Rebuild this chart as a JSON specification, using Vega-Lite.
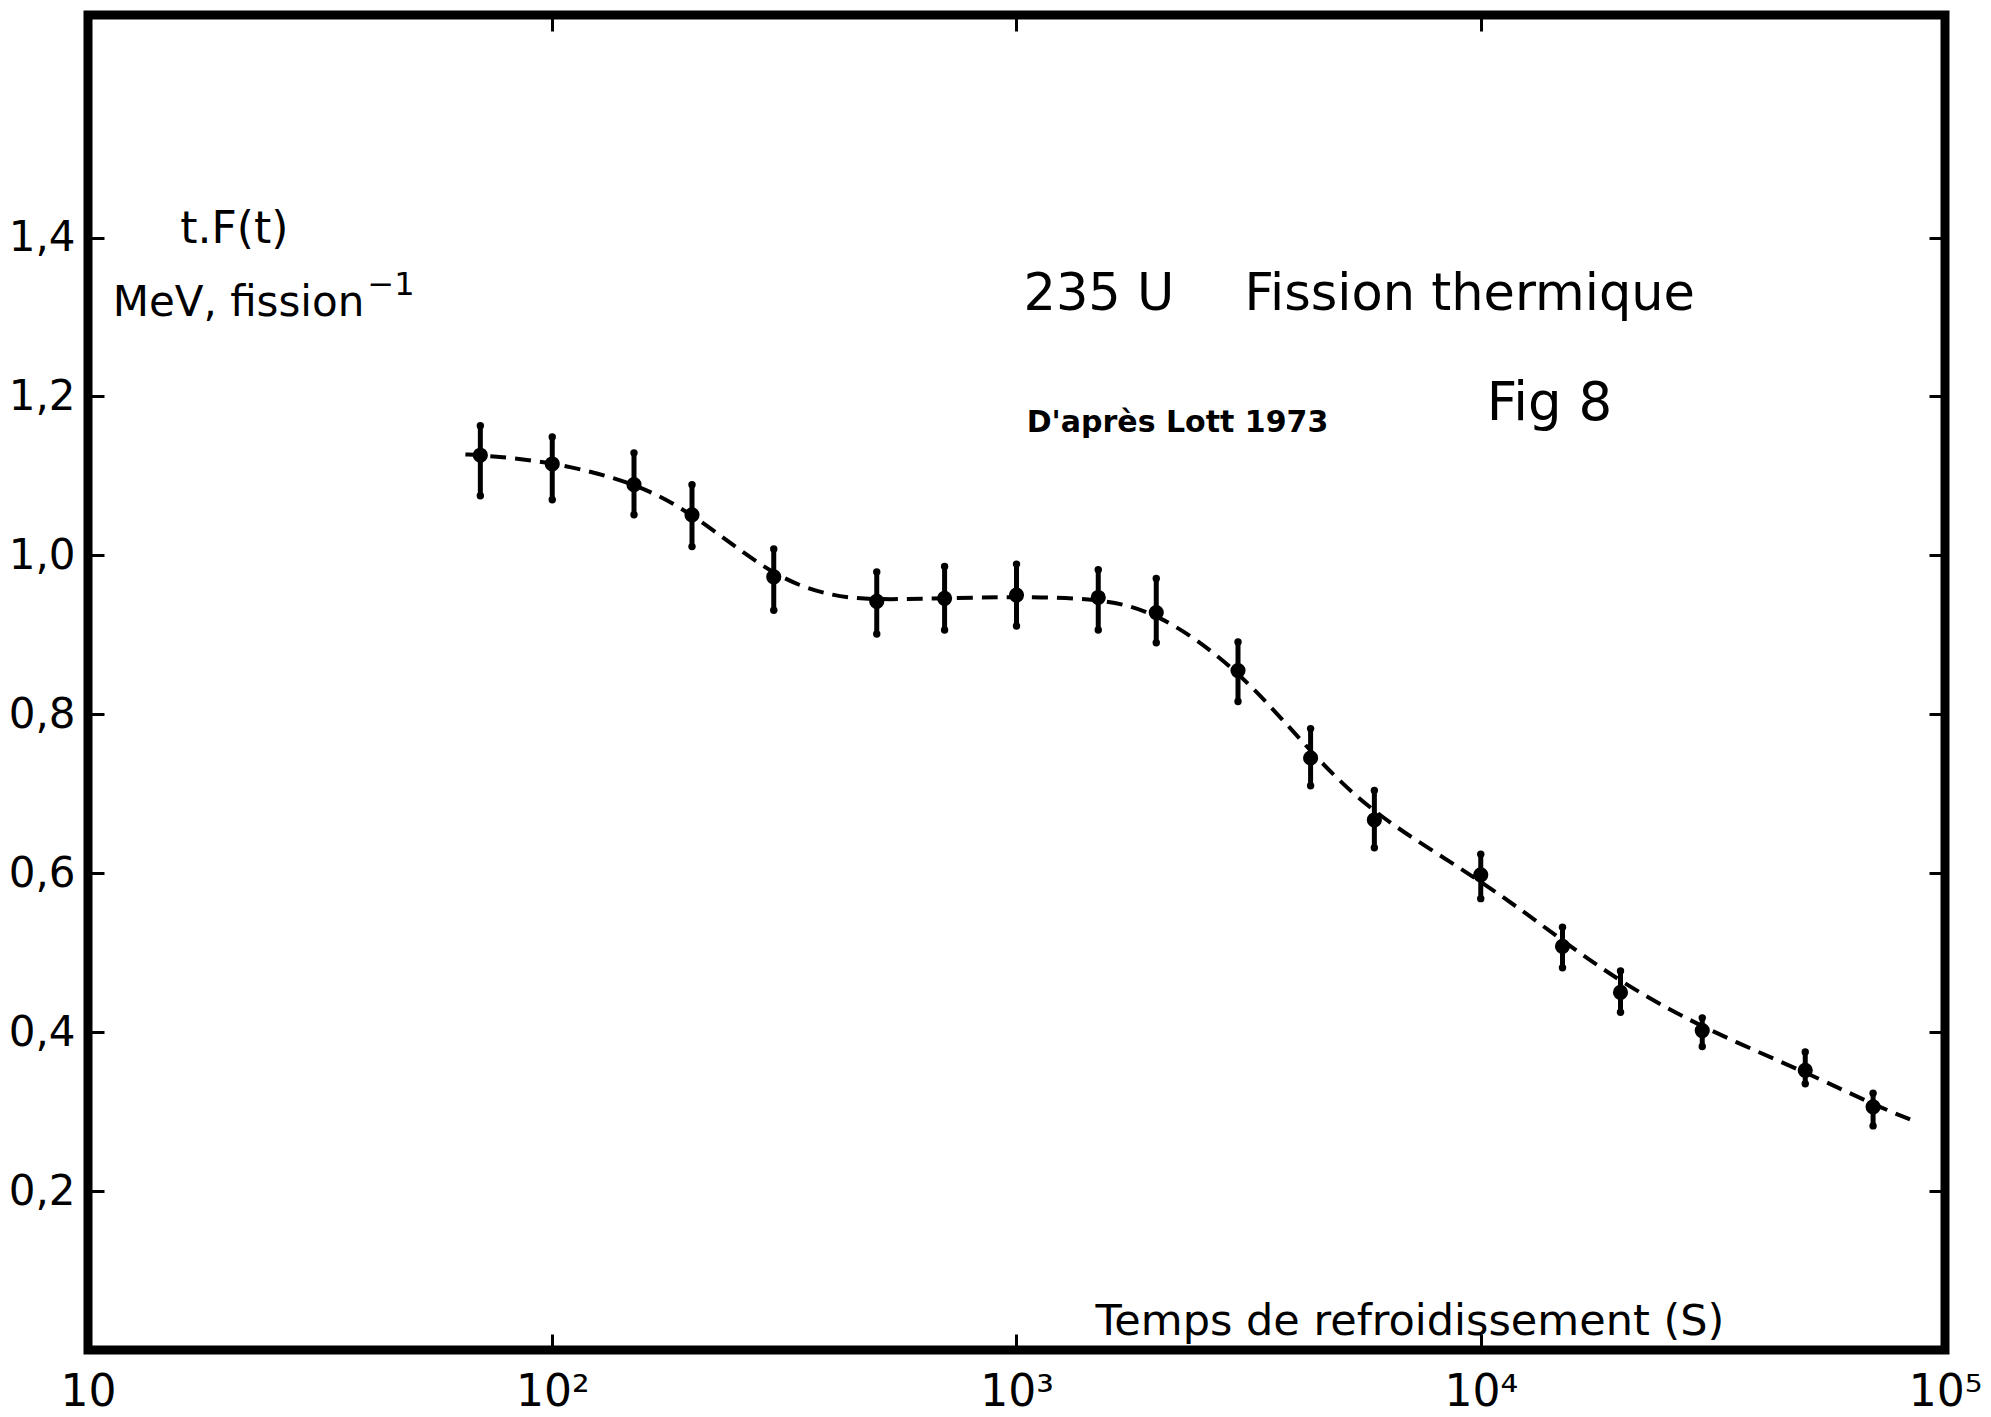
{
  "$schema": "https://vega.github.io/schema/vega-lite/v6.json",
  "width": 1857,
  "height": 1335,
  "autosize": {"type": "none"},
  "padding": {"left": 88, "top": 15, "right": 46, "bottom": 67},
  "background": "white",
  "config": {"view": {"stroke": "black", "strokeWidth": 9}, "font": "DejaVu Sans"},
  "datasets": {
    "points": [
      {"t": 70, "v": 1.126, "lo": 1.075, "hi": 1.163},
      {"t": 100, "v": 1.115, "lo": 1.070, "hi": 1.149},
      {"t": 150, "v": 1.089, "lo": 1.051, "hi": 1.129},
      {"t": 200, "v": 1.051, "lo": 1.011, "hi": 1.089},
      {"t": 300, "v": 0.973, "lo": 0.931, "hi": 1.008},
      {"t": 500, "v": 0.942, "lo": 0.901, "hi": 0.979},
      {"t": 700, "v": 0.946, "lo": 0.906, "hi": 0.986},
      {"t": 1000, "v": 0.950, "lo": 0.911, "hi": 0.989},
      {"t": 1500, "v": 0.947, "lo": 0.906, "hi": 0.982},
      {"t": 2000, "v": 0.928, "lo": 0.890, "hi": 0.971},
      {"t": 3000, "v": 0.855, "lo": 0.816, "hi": 0.891},
      {"t": 4300, "v": 0.745, "lo": 0.710, "hi": 0.782},
      {"t": 5900, "v": 0.667, "lo": 0.632, "hi": 0.704},
      {"t": 10000, "v": 0.598, "lo": 0.568, "hi": 0.624},
      {"t": 15000, "v": 0.508, "lo": 0.481, "hi": 0.532},
      {"t": 20000, "v": 0.450, "lo": 0.425, "hi": 0.477},
      {"t": 30000, "v": 0.402, "lo": 0.382, "hi": 0.418},
      {"t": 50000, "v": 0.352, "lo": 0.335, "hi": 0.375},
      {"t": 70000, "v": 0.306, "lo": 0.282, "hi": 0.323}
    ],
    "curve": [
      {"t": 65, "v": 1.127},
      {"t": 70, "v": 1.126},
      {"t": 100, "v": 1.118},
      {"t": 150, "v": 1.092},
      {"t": 200, "v": 1.054},
      {"t": 300, "v": 0.972},
      {"t": 400, "v": 0.948},
      {"t": 500, "v": 0.944},
      {"t": 700, "v": 0.946},
      {"t": 1000, "v": 0.948},
      {"t": 1500, "v": 0.946},
      {"t": 2000, "v": 0.930},
      {"t": 3000, "v": 0.858},
      {"t": 4300, "v": 0.752},
      {"t": 5900, "v": 0.672},
      {"t": 10000, "v": 0.592},
      {"t": 15000, "v": 0.515},
      {"t": 20000, "v": 0.463},
      {"t": 30000, "v": 0.405},
      {"t": 50000, "v": 0.350},
      {"t": 70000, "v": 0.309},
      {"t": 85000, "v": 0.289}
    ]
  },
  "layer": [
    {
      "data": {"name": "points"},
      "mark": {"type": "rule", "color": "black", "strokeWidth": 5},
      "encoding": {
        "x": {"field": "t", "type": "quantitative", "scale": {"type": "log", "domain": [10, 100000]}, "axis": {
          "orient": "bottom", "values": [10, 100, 1000, 10000, 100000],
          "labelExpr": "datum.value == 10 ? '10' : datum.value == 100 ? '10²' : datum.value == 1000 ? '10³' : datum.value == 10000 ? '10⁴' : '10⁵'",
          "tickSize": -16, "tickWidth": 3, "tickColor": "black", "domain": false, "grid": false,
          "labelFontSize": 44, "labelColor": "black", "labelFont": "DejaVu Sans", "labelPadding": 36,
          "labelFlush": false, "labelOverlap": false, "labelBound": false, "title": null}},
        "y": {"field": "lo", "type": "quantitative", "scale": {"domain": [0, 1.68], "nice": false, "zero": false}, "axis": {
          "orient": "left", "values": [0.2, 0.4, 0.6, 0.8, 1.0, 1.2, 1.4],
          "labelExpr": "replace(format(datum.value, '.1f'), '.', ',')",
          "tickSize": -16, "tickWidth": 3, "tickColor": "black", "domain": false, "grid": false,
          "labelFontSize": 42, "labelColor": "black", "labelFont": "DejaVu Sans", "labelPadding": 29,
          "labelOverlap": false, "labelBound": false, "title": null}},
        "y2": {"field": "hi"}
      }
    },
    {
      "data": {"name": "curve"},
      "mark": {"type": "line", "color": "black", "strokeWidth": 4, "strokeDash": [16, 9], "interpolate": "basis"},
      "encoding": {
        "x": {"field": "t", "type": "quantitative", "axis": {
          "orient": "top", "values": [100, 1000, 10000], "labels": false,
          "tickSize": -16, "tickWidth": 3, "tickColor": "black", "domain": false, "grid": false, "title": null}},
        "y": {"field": "v", "type": "quantitative", "axis": {
          "orient": "right", "values": [0.2, 0.4, 0.6, 0.8, 1.0, 1.2, 1.4], "labels": false,
          "tickSize": -16, "tickWidth": 3, "tickColor": "black", "domain": false, "grid": false, "title": null}}
      }
    },
    {
      "data": {"name": "points"},
      "mark": {"type": "point", "shape": "circle", "filled": true, "color": "black", "opacity": 1, "size": 55},
      "encoding": {
        "x": {"field": "t", "type": "quantitative", "axis": null},
        "y": {"field": "lo", "type": "quantitative", "axis": null}
      }
    },
    {
      "data": {"name": "points"},
      "mark": {"type": "point", "shape": "circle", "filled": true, "color": "black", "opacity": 1, "size": 55},
      "encoding": {
        "x": {"field": "t", "type": "quantitative", "axis": null},
        "y": {"field": "hi", "type": "quantitative", "axis": null}
      }
    },
    {
      "data": {"name": "points"},
      "mark": {"type": "point", "shape": "circle", "filled": true, "color": "black", "opacity": 1, "size": 230},
      "encoding": {
        "x": {"field": "t", "type": "quantitative", "axis": null},
        "y": {"field": "v", "type": "quantitative", "axis": null}
      }
    },
    {
      "data": {"values": [{}]},
      "mark": {"type": "text", "fontSize": 44, "align": "left", "baseline": "middle", "color": "black", "font": "DejaVu Sans"},
      "encoding": {"text": {"value": "t.F(t)"}, "x": {"datum": 15.8, "type": "quantitative", "axis": null}, "y": {"datum": 1.409, "type": "quantitative", "axis": null}}
    },
    {
      "data": {"values": [{}]},
      "mark": {"type": "text", "fontSize": 42, "align": "left", "baseline": "middle", "color": "black", "font": "DejaVu Sans"},
      "encoding": {"text": {"value": "MeV, fission"}, "x": {"datum": 11.3, "type": "quantitative", "axis": null}, "y": {"datum": 1.318, "type": "quantitative", "axis": null}}
    },
    {
      "data": {"values": [{}]},
      "mark": {"type": "text", "fontSize": 32, "align": "left", "baseline": "middle", "color": "black", "font": "DejaVu Sans"},
      "encoding": {"text": {"value": "−1"}, "x": {"datum": 40, "type": "quantitative", "axis": null}, "y": {"datum": 1.34, "type": "quantitative", "axis": null}}
    },
    {
      "data": {"values": [{}]},
      "mark": {"type": "text", "fontSize": 51, "align": "left", "baseline": "middle", "color": "black", "font": "DejaVu Sans"},
      "encoding": {"text": {"value": "235 U"}, "x": {"datum": 1035, "type": "quantitative", "axis": null}, "y": {"datum": 1.328, "type": "quantitative", "axis": null}}
    },
    {
      "data": {"values": [{}]},
      "mark": {"type": "text", "fontSize": 51, "align": "left", "baseline": "middle", "color": "black", "font": "DejaVu Sans"},
      "encoding": {"text": {"value": "Fission thermique"}, "x": {"datum": 3097, "type": "quantitative", "axis": null}, "y": {"datum": 1.328, "type": "quantitative", "axis": null}}
    },
    {
      "data": {"values": [{}]},
      "mark": {"type": "text", "fontSize": 30, "fontWeight": "bold", "align": "left", "baseline": "middle", "color": "black", "font": "DejaVu Sans"},
      "encoding": {"text": {"value": "D'après Lott 1973"}, "x": {"datum": 1052, "type": "quantitative", "axis": null}, "y": {"datum": 1.166, "type": "quantitative", "axis": null}}
    },
    {
      "data": {"values": [{}]},
      "mark": {"type": "text", "fontSize": 53, "align": "left", "baseline": "middle", "color": "black", "font": "DejaVu Sans"},
      "encoding": {"text": {"value": "Fig 8"}, "x": {"datum": 10300, "type": "quantitative", "axis": null}, "y": {"datum": 1.19, "type": "quantitative", "axis": null}}
    },
    {
      "data": {"values": [{}]},
      "mark": {"type": "text", "fontSize": 43, "align": "left", "baseline": "middle", "color": "black", "font": "DejaVu Sans"},
      "encoding": {"text": {"value": "Temps de refroidissement (S)"}, "x": {"datum": 1479, "type": "quantitative", "axis": null}, "y": {"datum": 0.035, "type": "quantitative", "axis": null}}
    }
  ],
  "resolve": {"axis": {"x": "independent", "y": "independent"}}
}
